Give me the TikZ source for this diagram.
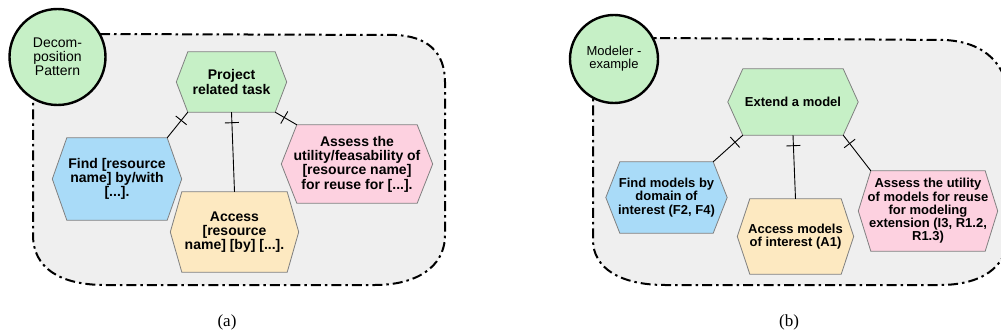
\documentclass[tikz,border=0pt]{standalone}
\usepackage{fontspec}
\setmainfont{Liberation Sans}
\newfontfamily\capfont{Liberation Serif}
\usetikzlibrary{backgrounds,decorations.markings,calc}
\definecolor{hgreen}{HTML}{C6F0C6}
\definecolor{hblue}{HTML}{A9DBF8}
\definecolor{hyellow}{HTML}{FDE9C1}
\definecolor{hpink}{HTML}{FDD1E0}
\definecolor{areagray}{HTML}{EFEFEF}
\definecolor{hexline}{HTML}{808080}
\tikzset{
  hexbox/.style={inner sep=0pt, minimum width=#1},
  htxtA/.style={align=center, inner sep=0pt, font=\bfseries\fontsize{14}{14.3}\selectfont},
  htxtB/.style={align=center, inner sep=0pt, font=\bfseries\fontsize{13}{13.2}\selectfont},
  circA/.style={circle, draw=black, line width=2.4pt, fill=hgreen, inner sep=0pt, align=center, font=\fontsize{14}{14.2}\selectfont},
  circB/.style={circle, draw=black, line width=2.4pt, fill=hgreen, inner sep=0pt, align=center, font=\fontsize{13}{13.2}\selectfont},
  area/.style={draw=black, fill=areagray, line width=2pt, dash pattern=on 10pt off 4pt on 2.5pt off 4pt},
  link/.style={draw=black, line width=0.9pt, postaction={decorate},
    decoration={markings, mark=at position 10.5pt with {\draw[line width=0.9pt] (0pt,-7pt) -- (0pt,7pt);}}},
  capt/.style={font=\capfont\fontsize{17}{17}\selectfont, inner sep=0pt}
}
\newcommand\hexfill[3]{%
  \path[draw=hexline, line width=0.8pt, fill=#3] (#1.north west) -- (#1.north east) -- ([xshift=#2]#1.east) -- (#1.south east) -- (#1.south west) -- ([xshift=-#2]#1.west) -- cycle;}
\begin{document}
\begin{tikzpicture}[x=1pt, y=-1pt]
\useasboundingbox (0,0) rectangle (1001,334);
% ---------- hexagon nodes (panel a)
\node[hexbox=87pt, minimum height=60pt, label={[htxtA]center:{Project\\related task}}] (pa) at (231.5,82) {};
\node[hexbox=100pt, minimum height=82pt, label={[htxtA]center:{Find {[}resource\\name{]} by/with\\{[}...{]}.}}] (fa) at (117,179) {};
\node[hexbox=105pt, minimum height=80pt, label={[htxtA]center:{Access\\{[}resource\\name{]} {[}by{]} {[}...{]}.}}] (aa) at (234.5,232) {};
\node[hexbox=120pt, minimum height=78pt, label={[htxtA]center:{Assess the\\utility/feasability of\\{[}resource name{]}\\for reuse for {[}...{]}.}}] (sa) at (357,164) {};
% ---------- hexagon nodes (panel b)
\node[hexbox=100pt, minimum height=66pt, label={[htxtB]center:{Extend a model}}] (pb) at (793,102) {};
\node[hexbox=93pt, minimum height=71pt, label={[htxtB]center:{Find models by\\domain of\\interest (F2, F4)}}] (fb) at (666.5,197.5) {};
\node[hexbox=91pt, minimum height=75pt, label={[htxtB]center:{Access models\\of interest (A1)}}] (ab) at (795.5,236.5) {};
\node[hexbox=114pt, minimum height=80pt, label={[htxtB]center:{Assess the utility\\of models for reuse\\for modeling\\extension (I3, R1.2,\\R1.3)}}] (sb) at (928,211) {};
% ---------- background: areas and hexagon shapes
\begin{scope}[on background layer]
  \path[area] (100,34) -- (395,35) .. controls (427,36) and (445,52) .. (445,82) -- (445,235)
     .. controls (445,268) and (415,285) .. (375,285) -- (105,285)
     .. controls (60,285) and (33,268) .. (33,235) -- (33,90)
     .. controls (33,52) and (58,34) .. (100,34) -- cycle;
  \begin{scope}
    \clip (0,0) rectangle (1001,334);
    \path[area] (660,38) -- (945,40) .. controls (985,42) and (1008,65) .. (1008,100) -- (1008,235)
       .. controls (1008,268) and (980,285) .. (940,285) -- (665,285)
       .. controls (620,285) and (593,268) .. (593,240) -- (593,90)
       .. controls (593,55) and (615,38) .. (660,38) -- cycle;
  \end{scope}
  \hexfill{pa}{11.5pt}{hgreen}
  \hexfill{fa}{14.5pt}{hblue}
  \hexfill{aa}{11.5pt}{hyellow}
  \hexfill{sa}{15.5pt}{hpink}
  \hexfill{pb}{15pt}{hgreen}
  \hexfill{fb}{14pt}{hblue}
  \hexfill{ab}{12.5pt}{hyellow}
  \hexfill{sb}{12.5pt}{hpink}
\end{scope}
% ---------- circles
\node[circA, minimum size=96pt] (ca) at (57.5,57) {Decom-\\position\\Pattern};
\node[circB, minimum size=88pt] (cb) at (614,59) {Modeler -\\example};
% ---------- connectors
\path[link] (pa.south west) -- (fa.north east);
\path[link] (pa.south) -- (aa.north);
\path[link] (pa.south east) -- (sa.north west);
\path[link] (pb.south west) -- (fb.north east);
\path[link] (pb.south) -- (ab.north);
\path[link] (pb.south east) -- (sb.north west);
% ---------- captions
\node[capt] (capa) at (227,322) {(a)};
\node[capt] (capb) at (789,322) {(b)};
\end{tikzpicture}
\end{document}
